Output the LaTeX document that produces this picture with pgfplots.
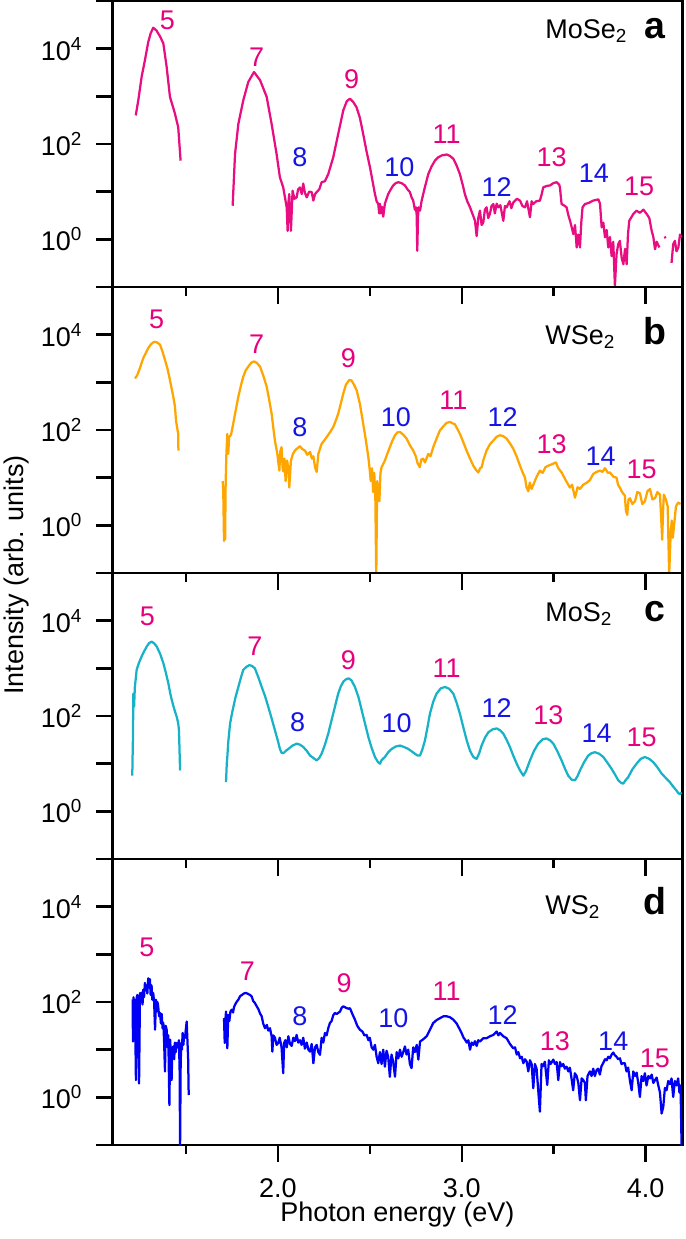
\documentclass[border=0pt]{standalone}
\usepackage{fontspec}
\setmainfont{Liberation Sans}
\usepackage{pgfplots}
\usepackage{pgfplotstable}
\pgfplotsset{compat=1.18}
\definecolor{hpink}{RGB}{230,0,126}
\definecolor{hblue}{RGB}{20,20,230}
\definecolor{cA}{RGB}{232,14,130}
\definecolor{cB}{RGB}{255,165,0}
\definecolor{cC}{RGB}{24,178,200}
\definecolor{cD}{RGB}{0,0,245}

\pgfplotstableread[row sep=\\]{x y\\
1.227 398\\ 1.241 832\\ 1.259 2570\\ 1.277 5750\\ 1.295 13800\\ 1.308 20900\\ 1.322 27500\\ 1.340 24000\\ 1.360 17800\\ 1.377 12900\\ 1.395 4170\\ 1.413 977\\ 1.440 437\\ 1.458 224\\ 1.471 44.7\\
1.472 nan\\
1.754 5.07\\ 1.767 61.7\\ 1.785 263\\ 1.812 832\\ 1.839 2000\\ 1.870 3240\\ 1.903 2190\\ 1.939 977\\ 1.966 263\\ 1.993 61.7\\ 2.011 20.0\\ 2.029 12.3\\ 2.048 4.68\\ 2.053 1.51\\ 2.058 6.3\\ 2.062 8.9\\ 2.067 3.2\\ 2.071 1.51\\ 2.080 10.5\\ 2.090 7.1\\ 2.102 7.6\\ 2.110 11.2\\ 2.120 12.3\\ 2.130 8.9\\ 2.138 14.8\\ 2.147 9.5\\ 2.157 7.6\\ 2.170 10\\ 2.184 9.8\\ 2.193 6.5\\ 2.202 8.9\\ 2.211 9.8\\ 2.225 11.2\\ 2.238 15.8\\ 2.256 16.6\\ 2.274 23.4\\ 2.301 52.5\\ 2.328 162\\ 2.356 513\\ 2.375 794\\ 2.392 891\\ 2.410 759\\ 2.428 589\\ 2.446 355\\ 2.464 162\\ 2.482 70.8\\ 2.501 32.4\\ 2.528 8.9\\ 2.537 6.3\\ 2.546 5.5\\ 2.551 3.5\\ 2.555 5.6\\ 2.560 3.5\\ 2.566 4.8\\ 2.573 3.0\\ 2.582 5.6\\ 2.600 8.9\\ 2.614 11.2\\ 2.627 13.5\\ 2.641 15.1\\ 2.655 15.8\\ 2.673 15.1\\ 2.691 13.5\\ 2.705 11.2\\ 2.718 9.8\\ 2.727 7.6\\ 2.736 6.5\\ 2.745 4.2\\ 2.751 4.7\\ 2.755 3.2\\ 2.758 0.575\\ 2.762 2.8\\ 2.765 4.7\\ 2.773 4.0\\ 2.782 6.5\\ 2.800 12.6\\ 2.818 23.4\\ 2.836 33.9\\ 2.854 44.7\\ 2.872 52.5\\ 2.891 57.5\\ 2.918 60.3\\ 2.936 56.2\\ 2.954 49.0\\ 2.972 35.5\\ 2.990 23.4\\ 3.008 12.6\\ 3.017 8.9\\ 3.030 6.3\\ 3.045 4.7\\ 3.060 3.3\\ 3.072 2.45\\ 3.081 1.17\\ 3.090 2.8\\ 3.099 4.0\\ 3.108 2.0\\ 3.117 2.24\\ 3.126 4.2\\ 3.135 4.7\\ 3.144 2.8\\ 3.153 3.4\\ 3.162 5.0\\ 3.172 5.5\\ 3.180 3.5\\ 3.190 5.6\\ 3.199 4.7\\ 3.210 5.2\\ 3.226 2.45\\ 3.235 5.0\\ 3.244 4.7\\ 3.260 6.3\\ 3.270 4.5\\ 3.280 5.9\\ 3.300 7.1\\ 3.317 6.5\\ 3.330 5.0\\ 3.344 4.7\\ 3.355 6.3\\ 3.371 2.9\\ 3.380 6.3\\ 3.389 5.5\\ 3.405 6.3\\ 3.425 6.5\\ 3.435 8.9\\ 3.443 12.3\\ 3.462 13.2\\ 3.480 13.5\\ 3.498 15.1\\ 3.516 15.8\\ 3.530 14.1\\ 3.534 12.3\\ 3.543 5.5\\ 3.555 5.2\\ 3.570 4.7\\ 3.580 3.2\\ 3.589 2.45\\ 3.598 1.78\\ 3.607 1.29\\ 3.616 2.0\\ 3.625 0.676\\ 3.634 1.26\\ 3.643 0.676\\ 3.650 2.24\\ 3.657 4.7\\ 3.670 5.5\\ 3.690 5.8\\ 3.715 6.5\\ 3.743 6.9\\ 3.752 5.6\\ 3.761 1.78\\ 3.770 2.24\\ 3.779 1.10\\ 3.788 1.58\\ 3.797 0.676\\ 3.806 1.12\\ 3.815 0.447\\ 3.824 0.89\\ 3.833 0.105\\ 3.842 0.49\\ 3.851 0.79\\ 3.860 0.93\\ 3.870 0.40\\ 3.879 0.30\\ 3.888 0.63\\ 3.897 0.30\\ 3.904 1.26\\ 3.911 2.45\\ 3.933 3.4\\ 3.950 4.0\\ 3.969 3.6\\ 3.988 4.2\\ 4.006 3.4\\ 4.020 2.8\\ 4.033 1.51\\ 4.042 1.12\\ 4.051 0.62\\ 4.060 0.89\\ 4.075 0.676\\
4.080 nan\\
4.104 1.15\\ 4.108 1.05\\
4.110 nan\\
4.141 0.32\\ 4.150 0.79\\ 4.159 0.93\\ 4.168 0.56\\ 4.178 0.676\\ 4.187 1.26\\ 4.196 1.10\\
}\dataA

\pgfplotstableread[row sep=\\]{x y\\
1.223 1200\\ 1.235 1410\\ 1.250 2000\\ 1.268 3240\\ 1.280 3980\\ 1.295 5250\\ 1.310 6310\\ 1.326 7080\\ 1.342 6920\\ 1.359 6170\\ 1.372 4470\\ 1.386 2950\\ 1.400 1910\\ 1.413 1120\\ 1.431 501\\ 1.440 316\\ 1.446 158\\ 1.452 112\\ 1.458 83\\ 1.459 37\\
1.460 nan\\
1.700 8.5\\ 1.703 5.0\\ 1.707 0.47\\ 1.710 3.2\\ 1.713 0.5\\ 1.716 7.9\\ 1.720 31.6\\ 1.725 83\\ 1.730 31.6\\ 1.735 71\\ 1.745 79\\ 1.757 135\\ 1.770 251\\ 1.785 501\\ 1.800 891\\ 1.812 1320\\ 1.825 1780\\ 1.839 2140\\ 1.855 2570\\ 1.870 2750\\ 1.885 2570\\ 1.903 2140\\ 1.920 1410\\ 1.939 813\\ 1.952 447\\ 1.966 219\\ 1.975 112\\ 1.984 60\\ 1.997 31.6\\ 2.003 20\\ 2.008 14.1\\ 2.013 35.5\\ 2.020 43.7\\ 2.026 15.8\\ 2.030 13.5\\ 2.036 25.1\\ 2.042 8.5\\ 2.050 22.9\\ 2.057 15.8\\ 2.062 6.2\\ 2.071 22.9\\ 2.082 31.6\\ 2.093 37.2\\ 2.107 41.7\\ 2.120 45.7\\ 2.133 39.8\\ 2.147 37.2\\ 2.160 30.2\\ 2.175 34.7\\ 2.185 25.1\\ 2.193 28.2\\ 2.202 16.6\\ 2.211 13.2\\ 2.220 31.6\\ 2.238 51.3\\ 2.252 60.3\\ 2.265 70.8\\ 2.283 89.1\\ 2.301 115\\ 2.315 158\\ 2.328 219\\ 2.342 355\\ 2.356 589\\ 2.370 891\\ 2.388 1120\\ 2.400 1100\\ 2.414 891\\ 2.428 692\\ 2.446 355\\ 2.464 135\\ 2.478 63\\ 2.492 26.9\\ 2.500 14.1\\ 2.505 8.5\\ 2.512 15.8\\ 2.518 5.0\\ 2.524 12.6\\ 2.530 4.0\\ 2.535 0.079\\ 2.540 8.5\\ 2.546 5.0\\ 2.552 3.2\\ 2.558 12.6\\ 2.564 16.6\\ 2.582 22.9\\ 2.595 31.6\\ 2.609 43.7\\ 2.623 60.3\\ 2.637 77.6\\ 2.650 89.1\\ 2.664 91.2\\ 2.682 79.4\\ 2.700 66.1\\ 2.718 47.9\\ 2.736 37.2\\ 2.750 28.2\\ 2.760 20\\ 2.772 16.6\\ 2.780 24\\ 2.790 25.1\\ 2.800 20.9\\ 2.818 31.6\\ 2.830 28.2\\ 2.845 43.7\\ 2.863 66.1\\ 2.881 97.7\\ 2.900 120\\ 2.918 141\\ 2.936 148\\ 2.950 138\\ 2.963 132\\ 2.990 83\\ 3.008 56.2\\ 3.026 37.2\\ 3.045 25.1\\ 3.063 17.8\\ 3.080 14.1\\ 3.090 12.9\\ 3.100 15.8\\ 3.108 16.6\\ 3.120 25.1\\ 3.135 37.2\\ 3.153 50.1\\ 3.172 60.3\\ 3.190 72.4\\ 3.208 77.6\\ 3.226 74.1\\ 3.244 66.1\\ 3.262 52.5\\ 3.280 40.7\\ 3.298 28.2\\ 3.317 17.8\\ 3.330 13.2\\ 3.344 10\\ 3.352 6.3\\ 3.362 5.2\\ 3.370 7.9\\ 3.380 5.8\\ 3.390 7.2\\ 3.405 10\\ 3.425 14.1\\ 3.440 12.6\\ 3.455 16.6\\ 3.470 17.8\\ 3.490 19.1\\ 3.512 20.9\\ 3.525 15.8\\ 3.543 12.9\\ 3.565 8.9\\ 3.588 6.2\\ 3.600 7.1\\ 3.616 3.8\\ 3.630 6.3\\ 3.643 5.8\\ 3.660 7.1\\ 3.679 7.8\\ 3.697 8.9\\ 3.715 12\\ 3.733 13.2\\ 3.752 14.1\\ 3.765 13.2\\ 3.779 15.8\\ 3.795 12.6\\ 3.806 12.9\\ 3.824 10.5\\ 3.842 10\\ 3.850 7.1\\ 3.860 6.2\\ 3.872 5.0\\ 3.887 4.2\\ 3.893 2.0\\ 3.900 1.66\\ 3.907 3.5\\ 3.915 3.7\\ 3.928 2.8\\ 3.942 3.2\\ 3.955 5.0\\ 3.969 4.7\\ 3.982 2.8\\ 3.996 3.2\\ 4.010 5.2\\ 4.024 5.8\\ 4.037 3.5\\ 4.051 3.7\\ 4.064 5.0\\ 4.078 4.4\\ 4.084 1.58\\ 4.090 0.5\\ 4.095 2.0\\ 4.099 4.4\\ 4.110 3.5\\ 4.120 2.5\\ 4.128 0.091\\ 4.136 0.65\\ 4.142 1.26\\ 4.148 0.55\\ 4.165 2.5\\ 4.177 3.0\\ 4.190 2.8\\
}\dataB

\pgfplotstableread[row sep=\\]{x y\\
1.208 5.6\\ 1.212 40\\ 1.214 295\\ 1.218 158\\ 1.222 398\\ 1.232 933\\ 1.245 1320\\ 1.259 1780\\ 1.273 2290\\ 1.287 2880\\ 1.300 3390\\ 1.314 3630\\ 1.328 3310\\ 1.341 2880\\ 1.360 2000\\ 1.377 1290\\ 1.390 832\\ 1.404 490\\ 1.416 282\\ 1.428 182\\ 1.440 126\\ 1.450 95.5\\ 1.458 70.8\\ 1.462 50.1\\ 1.465 20\\ 1.468 7.2\\
1.470 nan\\
1.718 4.1\\ 1.722 10\\ 1.725 13.8\\ 1.730 28.2\\ 1.740 69.2\\ 1.750 112\\ 1.758 155\\ 1.770 251\\ 1.785 407\\ 1.800 661\\ 1.812 933\\ 1.828 1070\\ 1.845 1170\\ 1.860 1120\\ 1.875 1000\\ 1.893 661\\ 1.912 407\\ 1.930 263\\ 1.948 155\\ 1.966 89.1\\ 1.984 50.1\\ 2.000 30.2\\ 2.011 20.4\\ 2.020 17\\ 2.030 16.6\\ 2.043 18.6\\ 2.057 20.4\\ 2.080 24\\ 2.102 26.3\\ 2.120 25.1\\ 2.138 22.4\\ 2.157 18.6\\ 2.175 14.8\\ 2.193 13.2\\ 2.211 11.7\\ 2.225 13.2\\ 2.238 16.2\\ 2.256 25.1\\ 2.274 42.7\\ 2.288 70.8\\ 2.301 112\\ 2.315 186\\ 2.328 295\\ 2.342 417\\ 2.356 525\\ 2.370 589\\ 2.385 617\\ 2.400 562\\ 2.419 407\\ 2.438 251\\ 2.456 132\\ 2.474 69.2\\ 2.492 36.3\\ 2.510 21.4\\ 2.528 13.8\\ 2.545 10.7\\ 2.555 10\\ 2.565 12\\ 2.582 13.8\\ 2.600 17.4\\ 2.619 20.4\\ 2.641 22.9\\ 2.664 24\\ 2.686 22.4\\ 2.709 20.4\\ 2.727 18.2\\ 2.745 16.2\\ 2.760 14.8\\ 2.773 14.8\\ 2.786 20\\ 2.800 30.9\\ 2.813 56.2\\ 2.827 112\\ 2.845 200\\ 2.863 295\\ 2.886 380\\ 2.909 407\\ 2.932 372\\ 2.954 295\\ 2.972 191\\ 2.990 112\\ 3.008 58.9\\ 3.027 30.9\\ 3.045 18.6\\ 3.063 13.8\\ 3.081 12.6\\ 3.095 16.6\\ 3.108 24\\ 3.127 35.5\\ 3.145 45.7\\ 3.168 52.5\\ 3.190 55\\ 3.208 50.1\\ 3.226 42.7\\ 3.244 31.6\\ 3.262 22.4\\ 3.280 14.8\\ 3.299 10\\ 3.317 7.2\\ 3.335 5.6\\ 3.350 7.1\\ 3.371 11.7\\ 3.393 18.6\\ 3.416 26.3\\ 3.440 32.4\\ 3.461 33.9\\ 3.480 30.9\\ 3.498 26.3\\ 3.520 18.2\\ 3.543 11.7\\ 3.561 7.9\\ 3.579 5.6\\ 3.598 4.6\\ 3.616 4.5\\ 3.630 5.5\\ 3.643 7.2\\ 3.665 10.7\\ 3.688 14.8\\ 3.706 16.6\\ 3.724 17.4\\ 3.747 16.2\\ 3.770 13.8\\ 3.792 10.5\\ 3.815 7.8\\ 3.835 5.8\\ 3.851 4.5\\ 3.865 4.0\\ 3.878 3.8\\ 3.891 4.5\\ 3.905 5.2\\ 3.928 7.6\\ 3.951 10\\ 3.973 12.6\\ 3.996 13.8\\ 4.020 12.6\\ 4.042 10.7\\ 4.065 8.3\\ 4.087 6.2\\ 4.110 5.0\\ 4.132 4.1\\ 4.150 3.3\\ 4.169 2.7\\ 4.178 2.4\\ 4.186 2.3\\ 4.195 2.5\\
}\dataC

\pgfplotstableread[row sep=\\]{x y\\
1.210 112\\ 1.212 14.8\\ 1.215 126\\ 1.218 39.8\\ 1.222 112\\ 1.225 20\\ 1.228 2.3\\ 1.232 126\\ 1.236 141\\ 1.240 79\\ 1.245 1.95\\ 1.250 155\\ 1.255 112\\ 1.260 158\\ 1.264 89\\ 1.268 182\\ 1.272 126\\ 1.277 251\\ 1.282 178\\ 1.286 224\\ 1.290 151\\ 1.295 316\\ 1.300 200\\ 1.304 302\\ 1.308 141\\ 1.313 224\\ 1.317 112\\ 1.322 155\\ 1.327 100\\ 1.332 26.3\\ 1.337 112\\ 1.341 63\\ 1.345 100\\ 1.349 81\\ 1.354 50\\ 1.359 59\\ 1.364 35.5\\ 1.368 56.2\\ 1.373 28.2\\ 1.377 36.3\\ 1.381 15.8\\ 1.386 3.5\\ 1.390 31.6\\ 1.395 26.3\\ 1.400 11.2\\ 1.404 20\\ 1.410 0.69\\ 1.414 16.2\\ 1.418 7.9\\ 1.422 2.3\\ 1.426 10\\ 1.431 11.7\\ 1.436 6.3\\ 1.440 14.1\\ 1.445 8.9\\ 1.450 13.8\\ 1.455 11.2\\ 1.462 15.8\\ 1.466 3.2\\ 1.468 0.079\\ 1.471 4.0\\ 1.474 13.8\\ 1.478 10\\ 1.482 22.4\\ 1.486 12.6\\ 1.490 20\\ 1.495 17.8\\ 1.500 28.2\\ 1.504 38.9\\ 1.508 15.8\\ 1.512 6.3\\ 1.515 1.12\\
1.520 nan\\
1.707 45.7\\ 1.711 13.8\\ 1.714 39.8\\ 1.718 63\\ 1.722 25.1\\ 1.725 10.7\\ 1.730 53.7\\ 1.736 39.8\\ 1.742 63\\ 1.749 69.2\\ 1.756 60.3\\ 1.762 79.4\\ 1.767 87.1\\ 1.775 100\\ 1.785 112\\ 1.794 132\\ 1.805 141\\ 1.815 151\\ 1.826 155\\ 1.838 148\\ 1.848 141\\ 1.857 132\\ 1.866 105\\ 1.875 95.5\\ 1.885 81.3\\ 1.894 70.8\\ 1.903 57.5\\ 1.912 50.1\\ 1.920 35.5\\ 1.930 28.2\\ 1.940 33.1\\ 1.948 25.1\\ 1.957 28.2\\ 1.966 19.1\\ 1.970 9.1\\ 1.975 20\\ 1.984 17.8\\ 1.993 12.6\\ 2.002 13.8\\ 2.010 17.8\\ 2.020 11.2\\ 2.029 3.2\\ 2.034 13.8\\ 2.040 15.8\\ 2.048 11.2\\ 2.057 19.1\\ 2.066 13.2\\ 2.075 12\\ 2.084 17.8\\ 2.093 15.1\\ 2.102 20.4\\ 2.111 14.1\\ 2.120 15.8\\ 2.129 12.6\\ 2.138 17.8\\ 2.147 10.5\\ 2.157 14.1\\ 2.166 10\\ 2.175 9.1\\ 2.184 13.2\\ 2.193 5.2\\ 2.202 11.2\\ 2.211 12.6\\ 2.220 8.9\\ 2.229 7.8\\ 2.238 17.8\\ 2.247 14.1\\ 2.256 22.4\\ 2.265 20\\ 2.274 28.2\\ 2.283 36.3\\ 2.292 39.8\\ 2.301 52.5\\ 2.310 58.9\\ 2.320 56.2\\ 2.338 63\\ 2.347 75.9\\ 2.356 81.3\\ 2.370 75.9\\ 2.383 72.4\\ 2.392 74.1\\ 2.405 56.2\\ 2.419 42.7\\ 2.432 31.6\\ 2.446 26.3\\ 2.460 24\\ 2.470 20\\ 2.483 20.4\\ 2.492 15.8\\ 2.500 17.8\\ 2.510 11.2\\ 2.519 10\\ 2.528 12.6\\ 2.537 7.1\\ 2.546 5.2\\ 2.555 8.9\\ 2.564 5.0\\ 2.573 10\\ 2.582 4.4\\ 2.591 9.5\\ 2.600 7.1\\ 2.609 2.7\\ 2.618 7.9\\ 2.627 5.6\\ 2.637 2.7\\ 2.646 8.9\\ 2.655 6.6\\ 2.664 10\\ 2.673 7.1\\ 2.682 8.9\\ 2.691 11.7\\ 2.700 7.9\\ 2.709 10\\ 2.718 5.0\\ 2.727 4.1\\ 2.736 11.2\\ 2.745 8.9\\ 2.755 12.6\\ 2.764 6.2\\ 2.773 14.8\\ 2.791 16.6\\ 2.809 19.1\\ 2.827 26.3\\ 2.845 36.3\\ 2.863 41.7\\ 2.881 45.7\\ 2.900 50.1\\ 2.918 50.1\\ 2.936 47.9\\ 2.954 42.7\\ 2.972 35.5\\ 2.990 26.3\\ 2.999 22.4\\ 3.010 17.8\\ 3.018 16.2\\ 3.027 14.1\\ 3.036 15.8\\ 3.045 10\\ 3.054 14.1\\ 3.063 12.6\\ 3.072 15.1\\ 3.081 12\\ 3.090 15.8\\ 3.099 14.8\\ 3.117 17.4\\ 3.135 17.4\\ 3.153 19.1\\ 3.172 20.4\\ 3.190 24\\ 3.199 20\\ 3.208 22.4\\ 3.226 19.1\\ 3.244 17.4\\ 3.262 13.2\\ 3.280 10.7\\ 3.290 11.2\\ 3.299 7.9\\ 3.308 8.9\\ 3.317 6.6\\ 3.326 7.1\\ 3.335 5.2\\ 3.344 6.3\\ 3.353 5.6\\ 3.362 3.5\\ 3.371 6.0\\ 3.380 5.0\\ 3.389 1.55\\ 3.398 5.0\\ 3.407 4.0\\ 3.416 1.41\\ 3.425 0.5\\ 3.434 5.0\\ 3.443 4.5\\ 3.452 5.6\\ 3.465 1.82\\ 3.474 6.0\\ 3.483 5.0\\ 3.498 6.2\\ 3.507 5.0\\ 3.516 5.5\\ 3.525 2.3\\ 3.534 5.5\\ 3.543 4.5\\ 3.552 5.0\\ 3.561 4.0\\ 3.570 4.4\\ 3.580 3.5\\ 3.588 4.2\\ 3.597 2.5\\ 3.606 1.41\\ 3.615 3.2\\ 3.625 2.8\\ 3.634 2.0\\ 3.643 0.87\\ 3.652 2.5\\ 3.661 2.3\\ 3.670 2.0\\ 3.675 0.87\\ 3.684 2.8\\ 3.697 3.5\\ 3.706 2.8\\ 3.715 4.0\\ 3.724 2.8\\ 3.733 3.7\\ 3.742 4.0\\ 3.751 3.0\\ 3.760 4.5\\ 3.769 5.2\\ 3.779 6.3\\ 3.788 6.0\\ 3.797 7.1\\ 3.806 6.6\\ 3.815 7.9\\ 3.824 8.7\\ 3.833 7.6\\ 3.842 7.1\\ 3.851 6.3\\ 3.860 6.6\\ 3.869 5.0\\ 3.878 5.2\\ 3.887 5.2\\ 3.896 3.5\\ 3.905 4.2\\ 3.915 2.2\\ 3.924 1.41\\ 3.933 3.5\\ 3.942 2.8\\ 3.951 3.3\\ 3.960 2.0\\ 3.969 1.02\\ 3.978 2.8\\ 3.987 2.2\\ 3.996 3.2\\ 4.005 1.78\\ 4.015 2.8\\ 4.024 2.5\\ 4.033 3.0\\ 4.042 2.0\\ 4.051 2.3\\ 4.060 2.6\\ 4.069 1.78\\ 4.078 1.26\\ 4.087 0.46\\ 4.096 0.63\\ 4.105 1.58\\ 4.114 1.41\\ 4.123 2.2\\ 4.132 1.9\\ 4.141 2.5\\ 4.150 1.02\\ 4.159 2.2\\ 4.168 1.78\\ 4.177 2.5\\ 4.184 1.26\\ 4.190 1.78\\ 4.196 0.079\\
}\dataD

\tikzset{hl/.style={inner sep=0pt, anchor=center}}

\begin{document}
\fontsize{10.8}{13}\selectfont
\begin{tikzpicture}
% panel a
\begin{axis}[at={(0,0)}, anchor=north west,
    ymode=log, scale only axis, width=228pt, height=114.4pt,
    xmin=1.1, xmax=4.2, ymin=0.1, ymax=100000,
    axis line style={line width=1.1pt},
    tick style={line width=1pt, black},
    tick align=outside, xtick pos=left, ytick pos=left,
    xtick={2,3,4}, minor xtick={1.5,2.5,3.5},
    major tick length=6.6pt, minor tick length=3.4pt,
    ytick={0.1,1,10,100,1000,10000,100000},
    yticklabels={,10\textsuperscript{0},,10\textsuperscript{2},,10\textsuperscript{4},},
    yminorticks=false, xticklabels={},
    yticklabel style={xshift=-1.5pt},
    unbounded coords=jump]
\addplot[cA, mark=none, line width=0.9pt, line join=round] table {\dataA};
\node[hl, text=hpink] at (axis cs:1.399,39800) {5};
\node[hl, text=hpink] at (axis cs:1.885,6760) {7};
\node[hl, text=hblue] at (axis cs:2.12,52.5) {8};
\node[hl, text=hpink] at (axis cs:2.401,2340) {9};
\node[hl, text=hblue] at (axis cs:2.661,32.4) {10};
\node[hl, text=hpink] at (axis cs:2.918,162) {11};
\node[hl, text=hblue] at (axis cs:3.19,12.3) {12};
\node[hl, text=hpink] at (axis cs:3.489,52.5) {13};
\node[hl, text=hblue] at (axis cs:3.719,24.5) {14};
\node[hl, text=hpink] at (axis cs:3.965,12.9) {15};
\node[inner sep=0pt, anchor=base west] at (axis cs:3.452,16200) {MoSe\textsubscript{2}};
\node[inner sep=0pt, anchor=base] at (axis cs:4.05,16200) {\fontsize{15}{17}\selectfont\bfseries a};
\end{axis}
% panel b
\begin{axis}[at={(0,-114.4pt)}, anchor=north west,
    ymode=log, scale only axis, width=228pt, height=114.4pt,
    xmin=1.1, xmax=4.2, ymin=0.1, ymax=100000,
    axis line style={line width=1.1pt},
    tick style={line width=1pt, black},
    tick align=outside, xtick pos=left, ytick pos=left,
    xtick={2,3,4}, minor xtick={1.5,2.5,3.5},
    major tick length=6.6pt, minor tick length=3.4pt,
    ytick={0.1,1,10,100,1000,10000,100000},
    yticklabels={,10\textsuperscript{0},,10\textsuperscript{2},,10\textsuperscript{4},},
    yminorticks=false, xticklabels={},
    yticklabel style={xshift=-1.5pt},
    unbounded coords=jump]
\addplot[cB, mark=none, line width=0.9pt, line join=round] table {\dataB};
\node[hl, text=hpink] at (axis cs:1.341,20900) {5};
\node[hl, text=hpink] at (axis cs:1.885,6170) {7};
\node[hl, text=hblue] at (axis cs:2.12,115) {8};
\node[hl, text=hpink] at (axis cs:2.383,3240) {9};
\node[hl, text=hblue] at (axis cs:2.642,186) {10};
\node[hl, text=hpink] at (axis cs:2.954,427) {11};
\node[hl, text=hblue] at (axis cs:3.222,186) {12};
\node[hl, text=hpink] at (axis cs:3.489,51.3) {13};
\node[hl, text=hblue] at (axis cs:3.755,28.8) {14};
\node[hl, text=hpink] at (axis cs:3.978,15.1) {15};
\node[inner sep=0pt, anchor=base west] at (axis cs:3.452,6170) {WSe\textsubscript{2}};
\node[inner sep=0pt, anchor=base] at (axis cs:4.05,6170) {\fontsize{15}{17}\selectfont\bfseries b};
\end{axis}
% panel c
\begin{axis}[at={(0,-228.8pt)}, anchor=north west,
    ymode=log, scale only axis, width=228pt, height=114.4pt,
    xmin=1.1, xmax=4.2, ymin=0.1, ymax=100000,
    axis line style={line width=1.1pt},
    tick style={line width=1pt, black},
    tick align=outside, xtick pos=left, ytick pos=left,
    xtick={2,3,4}, minor xtick={1.5,2.5,3.5},
    major tick length=6.6pt, minor tick length=3.4pt,
    ytick={0.1,1,10,100,1000,10000,100000},
    yticklabels={,10\textsuperscript{0},,10\textsuperscript{2},,10\textsuperscript{4},},
    yminorticks=false, xticklabels={},
    yticklabel style={xshift=-1.5pt},
    unbounded coords=jump]
\addplot[cC, mark=none, line width=0.9pt, line join=round] table {\dataC};
\node[hl, text=hpink] at (axis cs:1.29,12300) {5};
\node[hl, text=hpink] at (axis cs:1.875,2880) {7};
\node[hl, text=hblue] at (axis cs:2.107,75.9) {8};
\node[hl, text=hpink] at (axis cs:2.383,1510) {9};
\node[hl, text=hblue] at (axis cs:2.646,69.2) {10};
\node[hl, text=hpink] at (axis cs:2.918,1000) {11};
\node[hl, text=hblue] at (axis cs:3.19,145) {12};
\node[hl, text=hpink] at (axis cs:3.471,105) {13};
\node[hl, text=hblue] at (axis cs:3.733,42.7) {14};
\node[hl, text=hpink] at (axis cs:3.978,36.3) {15};
\node[inner sep=0pt, anchor=base west] at (axis cs:3.452,9770) {MoS\textsubscript{2}};
\node[inner sep=0pt, anchor=base] at (axis cs:4.05,9770) {\fontsize{15}{17}\selectfont\bfseries c};
\end{axis}
% panel d
\begin{axis}[at={(0,-343.2pt)}, anchor=north west,
    ymode=log, scale only axis, width=228pt, height=114.4pt,
    xmin=1.1, xmax=4.2, ymin=0.1, ymax=100000,
    axis line style={line width=1.1pt},
    tick style={line width=1pt, black},
    tick align=outside, xtick pos=left, ytick pos=left,
    xtick={2,3,4}, minor xtick={1.5,2.5,3.5},
    major tick length=6.6pt, minor tick length=3.4pt,
    ytick={0.1,1,10,100,1000,10000,100000},
    yticklabels={,10\textsuperscript{0},,10\textsuperscript{2},,10\textsuperscript{4},},
    yminorticks=false, xticklabels={2.0,3.0,4.0},
    xticklabel style={yshift=-3pt},
    yticklabel style={xshift=-1.5pt},
    unbounded coords=jump]
\addplot[cD, mark=none, line width=0.9pt, line join=round] table {\dataD};
\node[hl, text=hpink] at (axis cs:1.287,1380) {5};
\node[hl, text=hpink] at (axis cs:1.834,437) {7};
\node[hl, text=hblue] at (axis cs:2.12,51.3) {8};
\node[hl, text=hpink] at (axis cs:2.36,251) {9};
\node[hl, text=hblue] at (axis cs:2.628,45.7) {10};
\node[hl, text=hpink] at (axis cs:2.918,166) {11};
\node[hl, text=hblue] at (axis cs:3.222,53.7) {12};
\node[hl, text=hpink] at (axis cs:3.507,14.8) {13};
\node[hl, text=hblue] at (axis cs:3.824,14.8) {14};
\node[hl, text=hpink] at (axis cs:4.05,6.6) {15};
\node[inner sep=0pt, anchor=base west] at (axis cs:3.452,6920) {WS\textsubscript{2}};
\node[inner sep=0pt, anchor=base] at (axis cs:4.05,6920) {\fontsize{15}{17}\selectfont\bfseries d};
\end{axis}
\node[anchor=base, inner sep=0pt] at (114pt,-488.3pt) {Photon energy (eV)};
\node[anchor=base, inner sep=0pt, rotate=90] at (-35.4pt,-229.6pt) {Intensity (arb. units)};
\pgfresetboundingbox
\useasboundingbox (-44.96pt,0.4pt) rectangle (229.04pt,-495.2pt);
\end{tikzpicture}
\end{document}
